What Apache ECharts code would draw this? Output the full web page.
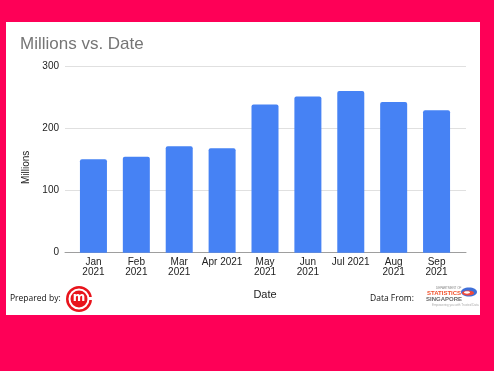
<!DOCTYPE html>
<html>
<head>
<meta charset="utf-8">
<script src="https://cdn.jsdelivr.net/npm/echarts@6/dist/echarts.min.js"></script>
<style>html,body{margin:0;padding:0;background:#fff}#c{width:494px;height:371px}</style>
</head>
<body>
<div id="c"></div>
<script>
const categories = ['Jan 2021','Feb 2021','Mar 2021','Apr 2021','May 2021','Jun 2021','Jul 2021','Aug 2021','Sep 2021'];
const tickLabels = ['Jan\n2021','Feb\n2021','Mar\n2021','Apr 2021','May\n2021','Jun\n2021','Jul 2021','Aug\n2021','Sep\n2021'];
const millions = [150, 154, 171, 168, 238, 251, 260, 242, 229];
const yTicks = [0, 100, 200, 300];

const PINK = '#fe0057';
const FONT = '"Liberation Sans", Arial, sans-serif';
const chart = echarts.init(document.getElementById('c'));
chart.setOption({
  animation: false,
  backgroundColor: '#ffffff',
  title: {
    text: 'Millions vs. Date', left: 15, top: 31,
    textStyle: { fontSize: 17, color: '#757575', fontWeight: 'normal', fontFamily: FONT }
  },
  grid: [
    { left: 65, right: 28, top: 66, bottom: 118.3 },
    { left: 72, right: 36, top: 66, bottom: 118.3 }
  ],
  xAxis: [
    { gridIndex: 0, type: 'value', min: 0, max: 1,
      axisLine: { show: true, lineStyle: { color: '#9e9e9e', width: 1 } },
      axisTick: { show: false }, axisLabel: { show: false }, splitLine: { show: false } },
    { gridIndex: 1, type: 'category', data: categories,
      axisLine: { show: false }, axisTick: { show: false },
      axisLabel: { formatter: (v, i) => tickLabels[i], color: '#222', fontSize: 10, lineHeight: 10, margin: 5, fontFamily: FONT, interval: 0 },
      name: 'Date', nameLocation: 'middle', nameGap: 37,
      nameTextStyle: { color: '#222', fontSize: 11, fontFamily: FONT } }
  ],
  yAxis: [
    { gridIndex: 0, type: 'value', min: yTicks[0], max: yTicks[yTicks.length - 1], interval: 100,
      axisLine: { show: false }, axisTick: { show: false }, axisLabel: { show: false },
      splitLine: { show: true, lineStyle: { color: '#e0e0e0', width: 1 } } },
    { gridIndex: 1, type: 'value', min: yTicks[0], max: yTicks[yTicks.length - 1], interval: 100,
      axisLine: { show: false }, axisTick: { show: false }, splitLine: { show: false },
      axisLabel: { color: '#222', fontSize: 10, margin: 13, fontFamily: FONT },
      name: 'Millions', nameLocation: 'middle', nameGap: 41, nameRotate: 90,
      nameTextStyle: { color: '#222', fontSize: 10, fontFamily: FONT, padding: [0, 16, 0, 0] } }
  ],
  series: [{
    type: 'bar', xAxisIndex: 1, yAxisIndex: 1, data: millions, barWidth: 27,
    itemStyle: { color: '#4682f4', borderRadius: [2, 2, 0, 0] }
  }],
  graphic: [
    { type: 'rect', shape: { x: 0, y: 0, width: 494, height: 22 }, style: { fill: PINK }, z: 100 },
    { type: 'rect', shape: { x: 0, y: 315, width: 494, height: 56 }, style: { fill: PINK }, z: 100 },
    { type: 'rect', shape: { x: 0, y: 0, width: 6, height: 371 }, style: { fill: PINK }, z: 100 },
    { type: 'rect', shape: { x: 480, y: 0, width: 14, height: 371 }, style: { fill: PINK }, z: 100 },
    { type: 'text', x: 10, y: 299, style: { text: 'Prepared by:', fill: '#111', font: '8.5px "Open Sans", sans-serif', verticalAlign: 'middle' }, z: 100 },
    { type: 'ring', shape: { cx: 79, cy: 299, r: 13, r0: 10.5 }, style: { fill: '#e8141c' }, z: 100 },
    { type: 'rect', shape: { x: 88, y: 297, width: 6, height: 3 }, style: { fill: '#fff' }, z: 101 },
    { type: 'circle', shape: { cx: 79, cy: 299, r: 8.5 }, style: { fill: '#e8141c' }, z: 100 },
    { type: 'text', x: 79, y: 298, style: { text: 'm', fill: '#fff', font: 'bold 12px "DejaVu Sans", sans-serif', align: 'center', verticalAlign: 'middle' }, z: 102 },
    { type: 'text', x: 370, y: 299, style: { text: 'Data From:', fill: '#111', font: '8.5px "Open Sans", sans-serif', verticalAlign: 'middle' }, z: 100 },
    { type: 'text', x: 436, y: 288, style: { text: 'DEPARTMENT OF', fill: '#888', font: '3px sans-serif', verticalAlign: 'middle' }, z: 100 },
    { type: 'text', x: 427, y: 293, style: { text: 'STATISTICS', fill: '#f0502a', font: 'bold 6px "Liberation Sans", sans-serif', verticalAlign: 'middle' }, z: 100 },
    { type: 'text', x: 426, y: 299.5, style: { text: 'SINGAPORE', fill: '#666', font: 'bold 6px "Liberation Sans", sans-serif', verticalAlign: 'middle' }, z: 100 },
    { type: 'text', x: 432, y: 305, style: { text: 'Empowering you with Trusted Data', fill: '#aaa', font: '3px sans-serif', verticalAlign: 'middle' }, z: 100 },
    { type: 'ellipse', shape: { cx: 469, cy: 292, rx: 8, ry: 4.5 }, style: { fill: '#3f6fd8' }, z: 100 },
    { type: 'ellipse', shape: { cx: 468, cy: 293, rx: 6, ry: 2.5 }, style: { fill: '#f04a3a' }, z: 101 },
    { type: 'ellipse', shape: { cx: 467, cy: 292.5, rx: 3, ry: 1.2 }, style: { fill: '#fff' }, z: 102 }
  ]
});
</script>
</body>
</html>
